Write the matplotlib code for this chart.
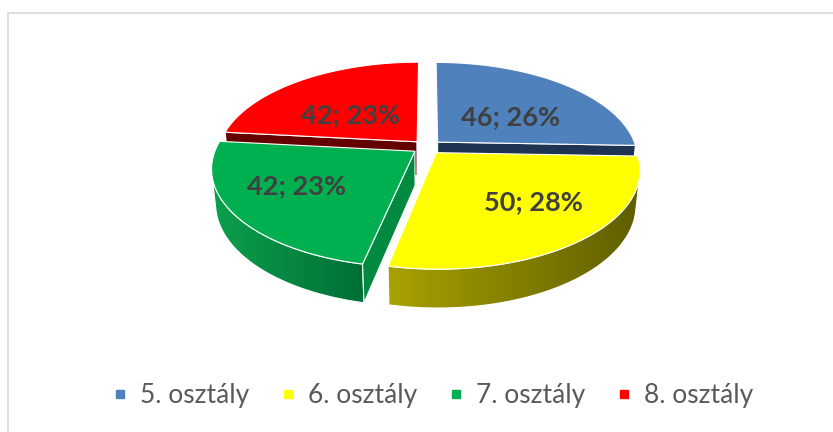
import numpy as np
import matplotlib
matplotlib.use("Agg")
import matplotlib.pyplot as plt
from matplotlib.patches import Polygon
from matplotlib.colors import to_rgb
from matplotlib.lines import Line2D

# ---- data ----
categories = ["5. osztály", "6. osztály", "7. osztály", "8. osztály"]
values = [46, 50, 42, 42]
top_colors = ["#4F81BD", "#FFFF00", "#00B050", "#FF0000"]
side_colors = [("#2E4A70", "#1F3350"), ("#A8A200", "#5E5E00"),
               ("#0BA04D", "#006E36"), ("#8B0000", "#600000")]
cut_colors = ["#1F3352", "#8A8600", "#008A3F", "#650000"]

# ---- projection parameters (pixel space) ----
CX, CY = 427.0, 147.0
F = 1032.0
D = 5.2
A = np.deg2rad(28.5)
H = 0.20
E = 0.075
# label placement (screen-space ellipse with perspective factor)
LKX, LKY, LCY, LP = 137.0, 54.0, 148.5, 0.26

W, Hpx = 833, 432
fig = plt.figure(figsize=(W / 100, Hpx / 100), dpi=100)
ax = fig.add_axes([0, 0, 1, 1])
ax.set_xlim(0, W)
ax.set_ylim(Hpx, 0)
ax.axis("off")


def project(X, Y, Z):
    X = np.asarray(X, float)
    Y = np.asarray(Y, float)
    Z = np.asarray(Z, float)
    depth = D + Y * np.cos(A) - Z * np.sin(A)
    ycam = Y * np.sin(A) + Z * np.cos(A)
    return CX + F * X / depth, CY - F * ycam / depth


def gradient_fill(pts, c0, c1, z):
    poly = Polygon(pts, closed=True, facecolor="none", edgecolor="white",
                   lw=0.8, zorder=z + 0.01)
    ax.add_patch(poly)
    x0, x1 = pts[:, 0].min(), pts[:, 0].max()
    y0, y1 = pts[:, 1].min(), pts[:, 1].max()
    c0, c1 = np.array(to_rgb(c0)), np.array(to_rgb(c1))
    t = np.linspace(0, 1, 256)
    img = (c0[None, :] * (1 - t[:, None]) + c1[None, :] * t[:, None])[None, :, :]
    im = ax.imshow(img, extent=(x0, x1, y1, y0), aspect="auto",
                   interpolation="bilinear", zorder=z)
    im.set_clip_path(poly)


total = sum(values)
fracs = np.array(values) / total
starts = np.concatenate([[0], np.cumsum(fracs)[:-1]]) * 2 * np.pi
ends = np.cumsum(fracs) * 2 * np.pi
mids = (starts + ends) / 2

cam = np.array([0.0, -D * np.cos(A), D * np.sin(A)])
order = np.argsort(-np.cos(mids))  # far slices first

z = 1
for i in order:
    t0, t1, tm = starts[i], ends[i], mids[i]
    ox, oy = E * np.sin(tm), E * np.cos(tm)
    th = np.linspace(t0, t1, 300)
    rx, ry = ox + np.sin(th), oy + np.cos(th)
    tx, ty = project(rx, ry, 0 * th)
    bx, by = project(rx, ry, -H + 0 * th)
    apx_t = project(ox, oy, 0)
    apx_b = project(ox, oy, -H)

    # outer curved side
    vis = -ox * np.sin(th) - np.cos(th) * (-cam[1] + oy) - 1 > 0
    if vis.sum() > 1:
        idx = np.where(vis)[0]
        pts = np.vstack([np.column_stack([tx[idx], ty[idx]]),
                         np.column_stack([bx[idx][::-1], by[idx][::-1]])])
        gradient_fill(pts, side_colors[i][0], side_colors[i][1], z)
        z += 1

    # cut faces
    for ang, n in ((t0, (-np.cos(t0), np.sin(t0))), (t1, (np.cos(t1), -np.sin(t1)))):
        dot = n[0] * (cam[0] - ox) + n[1] * (cam[1] - oy)
        if dot > 0:
            rt = project(ox + np.sin(ang), oy + np.cos(ang), 0)
            rb = project(ox + np.sin(ang), oy + np.cos(ang), -H)
            pts = np.array([apx_t, rt, rb, apx_b], float)
            ax.add_patch(Polygon(pts, closed=True, facecolor=cut_colors[i],
                                 edgecolor="white", lw=0.8, zorder=z))
            z += 1

    # top face
    pts = np.vstack([[apx_t[0], apx_t[1]], np.column_stack([tx, ty])])
    ax.add_patch(Polygon(pts, closed=True, facecolor=top_colors[i],
                         edgecolor="white", lw=0.8, zorder=z))
    z += 1

# labels
for i in range(len(values)):
    tm = mids[i]
    k = 1 + LP * np.cos(tm)
    lx = CX + LKX * np.sin(tm) / k
    ly = LCY - LKY * np.cos(tm) / k
    pct = round(100 * values[i] / total)
    ax.text(lx, ly, f"{values[i]}; {pct}%", ha="center", va="center",
            fontsize=19.5, fontweight="bold", color="#404040",
            family=["Lato", "DejaVu Sans"], zorder=100)

# chart frame
ax.plot([8, 8, W + 5], [Hpx + 5, 13, 13], color="#D9D9D9", lw=1.2,
        clip_on=False, zorder=0)

# legend
handles = [Line2D([], [], marker="s", linestyle="", markersize=6.2,
                  color=c) for c in top_colors]
leg = fig.legend(handles, categories, loc="center", ncol=4, frameon=False,
                 bbox_to_anchor=(432 / W, 1 - 396 / Hpx),
                 prop={"family": ["Lato", "DejaVu Sans"], "size": 19},
                 handletextpad=0.4, columnspacing=1.12, handlelength=0.7)
for t in leg.get_texts():
    t.set_color("#595959")

fig.savefig("out.png", dpi=100)
